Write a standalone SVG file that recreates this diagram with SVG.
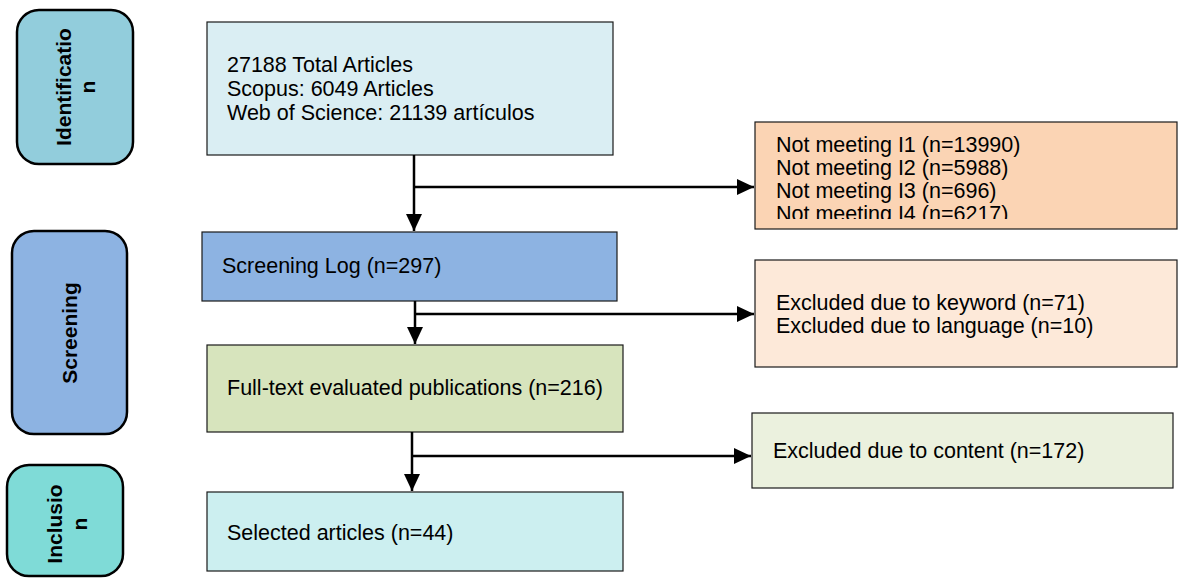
<svg xmlns="http://www.w3.org/2000/svg" width="1180" height="578" viewBox="0 0 1180 578">
<defs>
<style>
.stage{stroke:#000;stroke-width:2.5}
.box{stroke:#1a1a1a;stroke-width:1.2}
.t{font-family:"Liberation Sans",Arial,sans-serif;font-size:21.5px;fill:#000}
.s{font-family:"Liberation Sans",Arial,sans-serif;font-size:21px;font-weight:bold;fill:#000;text-anchor:middle}
.c{fill:none;stroke:#000;stroke-width:2.5}
</style>
<marker id="ah" markerUnits="userSpaceOnUse" markerWidth="18" markerHeight="16" viewBox="0 0 18 16" refX="17" refY="8" orient="auto">
<path d="M0,0 L17,8 L0,16 Z" fill="#000"/>
</marker>
<clipPath id="clipNM"><rect x="756" y="123" width="420" height="96"/></clipPath>
</defs>

<g id="stage-identification">
<rect class="stage" x="17" y="10" width="116" height="154" rx="22" fill="#92CDDC"/>
<text class="s" transform="translate(71,87) rotate(-90)">Identificatio</text>
<text class="s" transform="translate(95,87) rotate(-90)">n</text>
</g>
<g id="stage-screening">
<rect class="stage" x="12" y="231" width="115" height="203" rx="22" fill="#8DB3E2"/>
<text class="s" transform="translate(77,333) rotate(-90)">Screening</text>
</g>
<g id="stage-inclusion">
<rect class="stage" x="7" y="465" width="116" height="111" rx="22" fill="#7FDBD7"/>
<text class="s" transform="translate(62,524) rotate(-90)">Inclusio</text>
<text class="s" transform="translate(87,524) rotate(-90)">n</text>
</g>

<g id="total">
<rect class="box" x="207" y="22" width="406" height="133" fill="#DAEEF3"/>
<text class="t" x="227" y="72">27188 Total Articles</text>
<text class="t" x="227" y="96">Scopus: 6049 Articles</text>
<text class="t" x="227" y="120">Web of Science: 21139 artículos</text>
</g>
<g id="not-meeting">
<rect class="box" x="755" y="122" width="422" height="107" fill="#FBD4B4"/>
<g clip-path="url(#clipNM)">
<text class="t" x="776" y="152">Not meeting I1 (n=13990)</text>
<text class="t" x="776" y="175">Not meeting I2 (n=5988)</text>
<text class="t" x="776" y="198">Not meeting I3 (n=696)</text>
<text class="t" x="776" y="221">Not meeting I4 (n=6217)</text>
</g>
</g>
<g id="screening-log">
<rect class="box" x="202" y="232" width="415" height="69" fill="#8DB3E2"/>
<text class="t" x="222" y="273">Screening Log (n=297)</text>
</g>
<g id="excluded-keyword">
<rect class="box" x="755" y="260" width="422" height="107" fill="#FDE9D9"/>
<text class="t" x="776" y="310">Excluded due to keyword (n=71)</text>
<text class="t" x="776" y="333">Excluded due to language (n=10)</text>
</g>
<g id="full-text">
<rect class="box" x="207" y="345" width="416" height="87" fill="#D7E4BD"/>
<text class="t" x="227" y="395">Full-text evaluated publications (n=216)</text>
</g>
<g id="excluded-content">
<rect class="box" x="752" y="413" width="421" height="75" fill="#EBF1DE"/>
<text class="t" x="773" y="458">Excluded due to content (n=172)</text>
</g>
<g id="selected">
<rect class="box" x="207" y="492" width="416" height="79" fill="#CCEFF0"/>
<text class="t" x="227" y="540">Selected articles (n=44)</text>
</g>

<g id="connectors">
<path class="c" d="M414,155 V231" marker-end="url(#ah)"/>
<path class="c" d="M414,187 H754" marker-end="url(#ah)"/>
<path class="c" d="M415,301 V344" marker-end="url(#ah)"/>
<path class="c" d="M415,314 H754" marker-end="url(#ah)"/>
<path class="c" d="M412,432 V491" marker-end="url(#ah)"/>
<path class="c" d="M412,456 H751" marker-end="url(#ah)"/>
</g>
</svg>
